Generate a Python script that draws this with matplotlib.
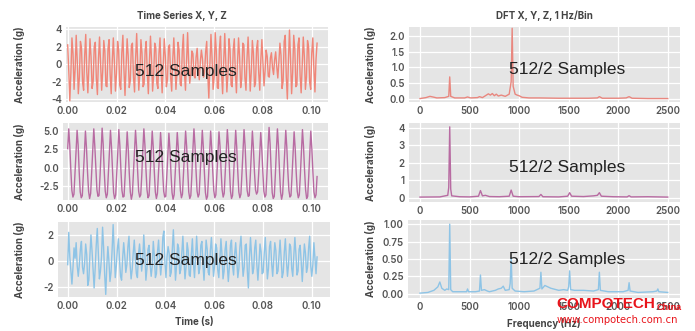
import numpy as np
import matplotlib
matplotlib.use("Agg")
import matplotlib.pyplot as plt

# time-domain samples (every other sample of the 512-sample capture)
x_acc = [
    2.2, -0.8, -4.2, -1.0, 3.0, 1.2, -2.9, -0.6, 3.3, 0.4,
    -3.4, -1.5, 2.6, 1.9, -2.1, -3.0, 1.0, 3.4, -0.9, -3.3,
    -0.2, 2.9, 0.8, -2.8, -2.0, 2.0, 2.5, -1.7, -3.5, 0.6,
    3.1, 0.1, -3.0, -0.8, 2.7, 1.5, -2.5, -2.6, 1.8, 2.8,
    -1.2, -3.4, 0.4, 3.0, 0.2, -3.1, -1.1, 2.6, 1.6, -2.4,
    -2.9, 1.3, 3.3, -0.6, -3.6, -0.3, 2.9, 1.0, -2.7, -1.9,
    2.1, 2.4, -1.5, -3.2, 0.7, 3.5, 0.0, -3.0, -0.9, 2.8,
    1.3, -2.6, -2.3, 1.6, 2.6, -1.0, -3.4, 0.2, 3.2, 0.5,
    -3.1, -1.3, 2.4, 1.9, -2.2, -2.8, 1.2, 3.0, -0.7, -3.3,
    -0.1, 2.9, 0.9, -2.6, -1.8, 2.0, 2.2, -1.5, -3.1, 0.5,
    3.0, 0.3, -2.9, -1.0, 2.5, 1.6, -2.3, -2.5, 1.6, 3.4,
    -1.0, -3.0, 0.4, 3.6, 0.2, -2.2, -1.1, 1.5, 1.2, -1.3,
    -1.6, 0.8, 1.8, -0.5, -1.8, 0.3, 1.6, 0.6, -1.5, -0.9,
    1.4, 2.6, -1.2, -3.9, 0.0, 3.4, 0.8, -2.9, -1.5, 3.6,
    1.6, -2.7, -2.8, 1.9, 3.2, -1.1, -3.4, 0.3, 3.5, 0.2,
    -3.2, -1.2, 2.9, 1.7, -2.4, -2.6, 1.7, 2.9, -1.0, -3.3,
    0.1, 3.0, 0.8, -2.7, -1.7, 2.4, 2.2, -1.6, -3.0, 0.7,
    3.1, 0.2, -3.1, -0.9, 2.7, 1.3, -2.6, -2.2, 1.8, 2.7,
    -1.0, -3.0, 0.5, 2.8, 0.1, -2.5, -0.8, 1.6, 0.9, -1.4,
    -1.5, 0.7, 1.3, -0.4, -1.2, 0.5, 1.4, -0.3, -1.6, 0.2,
    2.4, 1.0, -2.8, -2.0, 2.6, 3.3, -1.5, -4.0, 0.4, 3.9,
    0.6, -3.4, -1.0, 3.3, 1.8, -2.6, -2.4, 2.2, 3.0, -1.3,
    -3.3, 0.0, 3.1, 0.9, -2.9, -1.5, 2.7, 2.0, -2.1, -2.9,
    1.3, 3.0, -0.6, -3.2, 0.5, 2.4,
]

y_acc = [
    2.6, 5.3, 3.0, -0.3, -3.1, -4.0, -3.6, -0.8,
    2.2, 5.1, 3.1, -0.5, -3.3, -4.1, -3.8, -1.0,
    2.0, 5.0, 2.7, -0.6, -3.2, -4.2, -3.5, -0.6,
    2.6, 5.3, 2.9, -0.2, -3.0, -3.9, -3.8, -1.1,
    2.3, 5.4, 3.2, -0.4, -3.2, -4.1, -3.6, -0.7,
    2.4, 5.1, 2.8, -0.5, -3.4, -4.2, -3.7, -0.9,
    2.1, 5.2, 3.0, -0.3, -3.1, -4.0, -3.9, -1.2,
    1.9, 4.9, 2.6, -0.7, -3.3, -4.3, -3.6, -0.8,
    2.2, 5.1, 2.9, -0.4, -3.2, -4.0, -3.7, -1.0,
    2.4, 5.3, 3.1, -0.2, -3.0, -4.1, -3.8, -0.9,
    2.0, 5.0, 2.8, -0.5, -3.3, -4.2, -3.5, -0.7,
    1.8, 4.8, 2.6, -0.6, -3.2, -4.0, -3.9, -1.1,
    1.7, 4.7, 2.5, -0.8, -3.4, -4.3, -3.7, -0.9,
    1.9, 4.8, 2.7, -0.5, -3.1, -4.1, -3.6, -0.8,
    2.1, 5.0, 2.9, -0.3, -3.3, -4.2, -3.8, -1.0,
    2.5, 5.3, 3.0, -0.4, -3.2, -4.0, -3.6, -0.7,
    2.3, 5.1, 2.8, -0.6, -3.4, -4.3, -3.9, -1.2,
    2.0, 5.0, 2.7, -0.4, -3.1, -4.1, -3.7, -0.9,
    1.9, 4.9, 2.9, -0.3, -3.0, -4.0, -3.5, -0.6,
    2.4, 5.2, 3.1, -0.2, -3.2, -4.2, -3.8, -1.0,
    2.2, 5.1, 2.8, -0.5, -3.3, -4.1, -3.6, -0.8,
    2.3, 5.2, 3.0, -0.4, -3.1, -3.9, -3.8, -1.1,
    2.0, 5.0, 2.7, -0.6, -3.0, -3.6, -3.3, -0.9,
    1.8, 4.8, 2.6, -0.5, -3.2, -4.0, -3.7, -0.7,
    2.7, 5.5, 3.2, -0.3, -3.4, -4.2, -3.9, -1.0,
    2.4, 5.3, 3.0, -0.4, -3.3, -4.3, -3.6, -0.8,
    2.1, 5.1, 2.8, -0.5, -3.1, -4.0, -3.8, -1.1,
    1.9, 4.9, 2.7, -0.6, -3.2, -4.1, -3.7, -0.9,
    2.3, 5.2, 2.9, -0.3, -3.0, -4.2, -3.9, -1.2,
    2.0, 5.0, 2.6, -0.6, -3.3, -4.1, -3.7, -1.2,
]

z_acc = [
    -0.3, 2.2, 0.3, -0.8, -1.8, -0.5, 1.0, 0.2,
    1.4, -0.4, -1.2, -0.3, 0.9, 1.5, -0.5, -1.0,
    -0.2, 1.3, 0.5, -1.9, -1.5, 0.4, 2.0, 0.8,
    -0.7, -2.1, -0.6, 1.2, 2.5, 0.6, -1.4, -0.8,
    0.3, 2.6, 1.0, -1.1, -2.6, -0.4, 1.1, 0.0,
    -1.6, -0.9, 0.8, 2.8, 0.7, -1.3, -0.4, 0.9,
    1.7, 0.1, -1.2, -1.5, 0.2, 1.4, 0.4, -0.9,
    -0.3, 1.1, 1.9, -0.2, -1.4, -0.7, 0.6, 1.6,
    0.2, -1.0, -1.3, 0.5, 1.3, 0.3, -0.8, 0.1,
    2.0, 0.6, -1.5, -0.6, 0.9, 1.2, -0.3, -1.2,
    -0.4, 1.5, 0.4, -1.3, -1.0, 0.7, 1.6, 0.0,
    -1.1, -0.2, 1.8, 2.3, -0.1, -1.3, 0.3, 1.1,
    0.6, -1.2, -0.9, 0.9, 2.4, 0.5, -1.5, -0.4,
    1.3, 1.0, -1.0, -0.7, 0.6, 1.9, 0.1, -1.4,
    -0.5, 1.4, 0.8, -1.1, -1.2, 0.5, 1.7, -0.2,
    -1.3, 0.2, 1.9, 0.4, -1.0, -0.6, 1.2, 1.5,
    -0.3, -1.5, 0.0, 1.6, 0.9, -0.9, -1.1, 0.8,
    1.8, 0.3, -1.2, -0.4, 1.3, 1.0, -0.7, -1.3,
    0.1, 1.7, 0.5, -1.4, -0.8, 0.9, 1.5, -0.3,
    -1.6, -0.5, 1.2, 1.6, -0.4, -1.1, 0.5, 1.4,
    0.0, -1.3, -0.6, 1.1, 1.9, 0.2, -1.2, -0.5,
    1.2, 1.3, -0.8, -2.1, 0.3, 1.8, 0.4, -1.0,
    -0.6, 1.0, 1.6, -0.3, -1.5, -0.2, 1.3, 0.7,
    -1.0, -0.9, 0.6, 1.8, 0.2, -1.4, -0.6, 1.1,
    1.5, -0.2, -1.2, 0.1, 1.4, 0.8, -1.0, -0.8,
    0.4, 1.6, 0.1, -1.3, -0.9, 0.7, 1.7, 0.0,
    -1.2, -0.3, 1.3, 1.1, -0.6, -1.2, 0.4, 1.8,
    0.5, -1.1, -0.8, 0.9, 1.2, -0.1, -1.6, -0.2,
    1.3, 0.6, -0.9, -0.5, 1.0, 1.9, -0.4, -1.2,
    -0.3, 1.4, 0.2, -1.0, 0.3,
]

# spectra: (frequency in Hz, magnitude in g)
fx_freq = [0, 60, 100, 130, 170, 250, 290, 300, 310, 350, 450, 480, 510, 580, 600, 630,
           660, 690, 710, 730, 750, 770, 790, 820, 860, 900, 920, 930, 940, 960, 980,
           1000, 1030, 1100, 1200, 1400, 1700, 1790, 1810, 1840, 2000, 2080, 2110, 2140, 2300, 2500]
fx_amp = [0.01, 0.04, 0.08, 0.06, 0.03, 0.04, 0.08, 0.70, 0.08, 0.03, 0.03, 0.06, 0.03, 0.04, 0.07, 0.04,
          0.10, 0.16, 0.12, 0.17, 0.10, 0.15, 0.09, 0.12, 0.08, 0.15, 0.55, 2.25, 0.40, 0.15, 0.12,
          0.10, 0.05, 0.03, 0.03, 0.02, 0.02, 0.03, 0.07, 0.02, 0.02, 0.03, 0.07, 0.02, 0.01, 0.01]

fy_freq = [0, 200, 280, 290, 300, 310, 320, 400, 500, 590, 610, 630, 660, 700, 800, 900, 920, 940,
           1000, 1200, 1220, 1240, 1400, 1490, 1510, 1530, 1650, 1750, 1790, 1810, 1830, 1950,
           2090, 2110, 2130, 2300, 2500]
fy_amp = [0.05, 0.06, 0.15, 0.6, 4.05, 0.5, 0.12, 0.07, 0.06, 0.1, 0.42, 0.12, 0.15, 0.08, 0.07, 0.1, 0.45, 0.1,
          0.07, 0.08, 0.2, 0.07, 0.06, 0.1, 0.3, 0.1, 0.08, 0.12, 0.15, 0.3, 0.1, 0.07,
          0.06, 0.13, 0.06, 0.07, 0.05]

fz_freq = [0, 80, 140, 180, 200, 220, 250, 270, 290, 300, 310, 330, 400, 470, 480, 490, 560, 600,
           610, 620, 650, 680, 700, 760, 790, 820, 840, 860, 900, 910, 920, 930, 960, 1050, 1150,
           1210, 1220, 1230, 1260, 1290, 1320, 1400, 1450, 1490, 1500, 1510, 1520, 1560, 1650,
           1750, 1800, 1810, 1820, 1900, 2050, 2100, 2110, 2120, 2200, 2350, 2390, 2400, 2410, 2500]
fz_amp = [0.01, 0.02, 0.05, 0.10, 0.17, 0.08, 0.05, 0.07, 0.06, 1.0, 0.06, 0.03, 0.03, 0.03, 0.07, 0.03, 0.03, 0.04,
          0.27, 0.05, 0.06, 0.04, 0.03, 0.05, 0.07, 0.08, 0.11, 0.05, 0.06, 0.15, 0.52, 0.08, 0.04, 0.03, 0.04,
          0.08, 0.31, 0.07, 0.12, 0.10, 0.08, 0.05, 0.06, 0.05, 0.10, 0.33, 0.06, 0.05, 0.05,
          0.04, 0.06, 0.31, 0.05, 0.03, 0.03, 0.05, 0.16, 0.04, 0.02, 0.03, 0.04, 0.07, 0.03, 0.02]

duration = 0.1022
colors = ["#f08679", "#b86ba2", "#8ec4e6"]
dft_colors = ["#e9877f", "#b86ba2", "#8ec4e6"]

W, H = 695, 331
fig = plt.figure(figsize=(W / 100, H / 100), dpi=100)
fig.patch.set_facecolor("white")

tick_font = dict(family="Inter", size=7, weight="semibold", color="#555555")
label_font = dict(family="Inter", size=7, weight="bold", color="#444444")
note_font = dict(family="Liberation Sans", size=12.5, color="#222222")


def add_axes(l, t, r, b):
    return fig.add_axes([l / W, 1 - b / H, (r - l) / W, (b - t) / H])


def style(ax, ylim, yticks, yfmt, label_x, left):
    ax.set_facecolor("#e5e5e5")
    for s in ax.spines.values():
        s.set_visible(False)
    ax.grid(True, color="white", linewidth=0.9)
    ax.set_axisbelow(True)
    ax.tick_params(length=0, pad=3)
    ax.set_ylim(*ylim)
    ax.set_yticks(yticks)
    ax.set_yticklabels([yfmt.format(v) for v in yticks], **tick_font)
    ax.set_ylabel("Acceleration (g)", **label_font)
    w = ax.get_position().width * W
    ax.yaxis.set_label_coords((label_x - left) / w, 0.5)


# time series, left column
left_boxes = [(66, 27, 328, 102), (63, 123, 328, 200), (58, 222, 330, 297)]
left_ylims = [(-4.35, 4.25), (-4.4, 6.1), (-2.8, 3.0)]
left_yticks = [[-4, -2, 0, 2, 4], [-2.5, 0.0, 2.5, 5.0], [-2, 0, 2]]
left_fmt = ["{:g}", "{:.1f}", "{:g}"]
note_y = [0.41, 0.55, 0.49]
px_per_sec = 2440.0
zero_px = 67.7

for i, series in enumerate([x_acc, y_acc, z_acc]):
    l, t, r, b = left_boxes[i]
    ax = add_axes(l, t, r, b)
    tt = np.linspace(0, duration, len(series))
    ax.plot(tt, series, color=colors[i], linewidth=1.0)
    ax.set_xlim((l - zero_px) / px_per_sec, (r - zero_px) / px_per_sec)
    xt = [0.0, 0.02, 0.04, 0.06, 0.08, 0.10]
    ax.set_xticks(xt)
    ax.set_xticklabels(["{:.2f}".format(v) for v in xt], **tick_font)
    style(ax, left_ylims[i], left_yticks[i], left_fmt[i], 25, l)
    ax.text((186 - l) / (r - l), note_y[i], "512 Samples", transform=ax.transAxes,
            ha="center", va="center", **note_font)
    if i == 0:
        ax.set_title("Time Series X, Y, Z", x=(182 - l) / (r - l), pad=6, **label_font)
    if i == 2:
        ax.set_xlabel("Time (s)", labelpad=4, **label_font)

# spectra, right column
right_boxes = [(409, 27, 680, 102), (409, 123, 680, 202), (408, 220, 680, 298)]
right_ylims = [(-0.1, 2.29), (-0.23, 4.27), (-0.06, 1.06)]
right_yticks = [[0.0, 0.5, 1.0, 1.5, 2.0], [0, 1, 2, 3, 4], [0.0, 0.25, 0.5, 0.75, 1.0]]
right_fmt = ["{:.1f}", "{:g}", "{:.2f}"]
dft_note_y = [0.43, 0.44, 0.49]
px_per_hz = 0.0991
zero_hz_px = 420

for i, (fr, am) in enumerate([(fx_freq, fx_amp), (fy_freq, fy_amp), (fz_freq, fz_amp)]):
    l, t, r, b = right_boxes[i]
    ax = add_axes(l, t, r, b)
    ax.plot(fr, am, color=dft_colors[i], linewidth=1.0)
    ax.set_xlim((l - zero_hz_px) / px_per_hz, (r - zero_hz_px) / px_per_hz)
    xt = [0, 500, 1000, 1500, 2000, 2500]
    ax.set_xticks(xt)
    ax.set_xticklabels([str(v) for v in xt], **tick_font)
    style(ax, right_ylims[i], right_yticks[i], right_fmt[i], 376, l)
    ax.text((567 - l) / (r - l), dft_note_y[i], "512/2 Samples", transform=ax.transAxes,
            ha="center", va="center", **note_font)
    if i == 0:
        ax.set_title("DFT X, Y, Z, 1 Hz/Bin", pad=6, **label_font)
    if i == 2:
        ax.set_xlabel("Frequency (Hz)", labelpad=4, **label_font)

# publisher mark
fig.text(556 / W, 1 - 304 / H, "COMPOTECH", fontsize=11, weight="bold",
         family="Liberation Sans", color="#e8141b", va="center", ha="left")
fig.text(657 / W, 1 - 307 / H, "China", fontsize=6.5, weight="bold",
         family="Liberation Sans", color="#e8141b", va="center", ha="left")
fig.text(557 / W, 1 - 320 / H, "www.compotech.com.cn", fontsize=7.2, family="DejaVu Sans",
         color="#e8141b", va="center", ha="left")

fig.savefig("out.png", dpi=100)
